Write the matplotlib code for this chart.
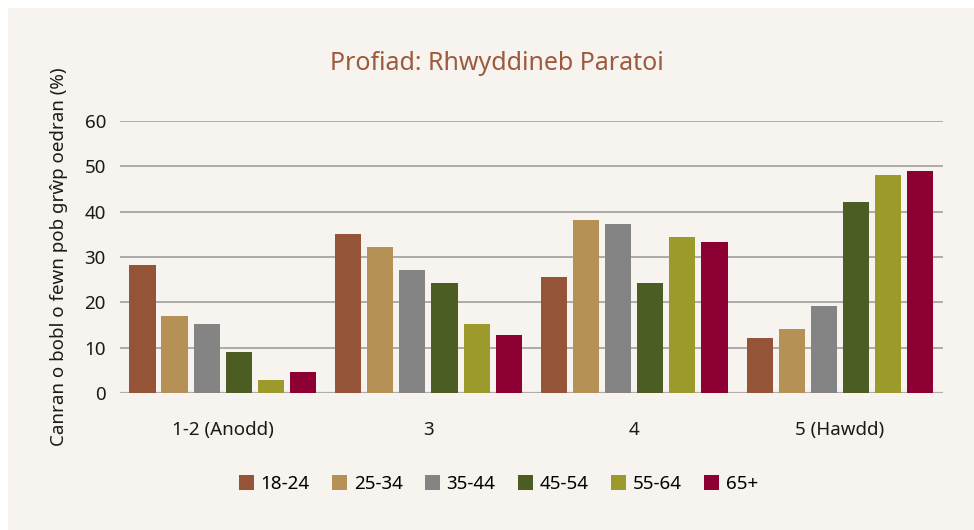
import matplotlib.pyplot as plt
import matplotlib.patches as mpatches
import numpy as np

# ── Data ──────────────────────────────────────────────────────────────────────
categories = ["1-2 (Anodd)", "3", "4", "5 (Hawdd)"]
age_groups = ["18-24", "25-34", "35-44", "45-54", "55-64", "65+"]

v_18_24 = [28.2, 35.1, 25.6, 12.2]
v_25_34 = [17.0, 32.2, 38.2, 14.2]
v_35_44 = [15.3, 27.1, 37.3, 19.2]
v_45_54 = [9.1, 24.3, 24.3, 42.1]
v_55_64 = [2.9, 15.3, 34.4, 48.1]
v_65_up = [4.7, 12.8, 33.3, 48.9]
series = [v_18_24, v_25_34, v_35_44, v_45_54, v_55_64, v_65_up]

y_ticks = [0, 10, 20, 30, 40, 50, 60]

# ── Style ─────────────────────────────────────────────────────────────────────
BG     = "#f7f4ef"
GRID   = "#aeacab"
TEXT   = "#1a1a1a"
TITLE  = "#9e5a3e"
COLORS = ["#955438", "#b59155", "#848484", "#4b5d22", "#9c9a2b", "#8c0034"]

plt.rcParams["font.family"] = ["Noto Sans", "DejaVu Sans"]

fig = plt.figure(figsize=(9.74, 5.30), dpi=100, facecolor="white")
fig.patches.append(mpatches.Rectangle((8 / 974, 0), 1, 1 - 8 / 530,
                                      transform=fig.transFigure,
                                      facecolor=BG, edgecolor="none", zorder=-10))

ax = fig.add_axes([0.123, 0.258, 0.845, 0.514])
ax.set_facecolor("none")

x = np.arange(len(categories))
width = 0.127
pitch = 0.156
for i, (vals, col, lab) in enumerate(zip(series, COLORS, age_groups)):
    ax.bar(x + (i - 2.5) * pitch, vals, width=width, color=col, label=lab, zorder=3)

ax.set_xlim(-0.5, 3.5)
ax.set_ylim(0, 60)
ax.set_yticks(y_ticks)
ax.yaxis.grid(True, color=GRID, linewidth=1.4, zorder=0)
ax.set_axisbelow(True)
for s in ax.spines.values():
    s.set_visible(False)
ax.axhline(0, color=GRID, linewidth=1.6, zorder=2)
ax.tick_params(axis="both", length=0, labelsize=13.5, colors=TEXT)
ax.tick_params(axis="x", pad=20)
ax.tick_params(axis="y", pad=10)
ax.set_xticks(x)
ax.set_xticklabels(categories)

ax.set_ylabel("Canran o bobl o fewn pob grŵp oedran (%)", fontsize=13.5,
              color=TEXT, labelpad=12)

fig.text(0.51, 0.88, "Profiad: Rhwyddineb Paratoi", ha="center", va="center",
         fontsize=18, color=TITLE)

ax.legend(loc="center", bbox_to_anchor=(0.46, -0.333), ncol=6, frameon=False,
          fontsize=13.5, handlelength=0.8, handleheight=0.8, handletextpad=0.35,
          columnspacing=1.2)

plt.savefig("out.png", dpi=100, facecolor="white")
